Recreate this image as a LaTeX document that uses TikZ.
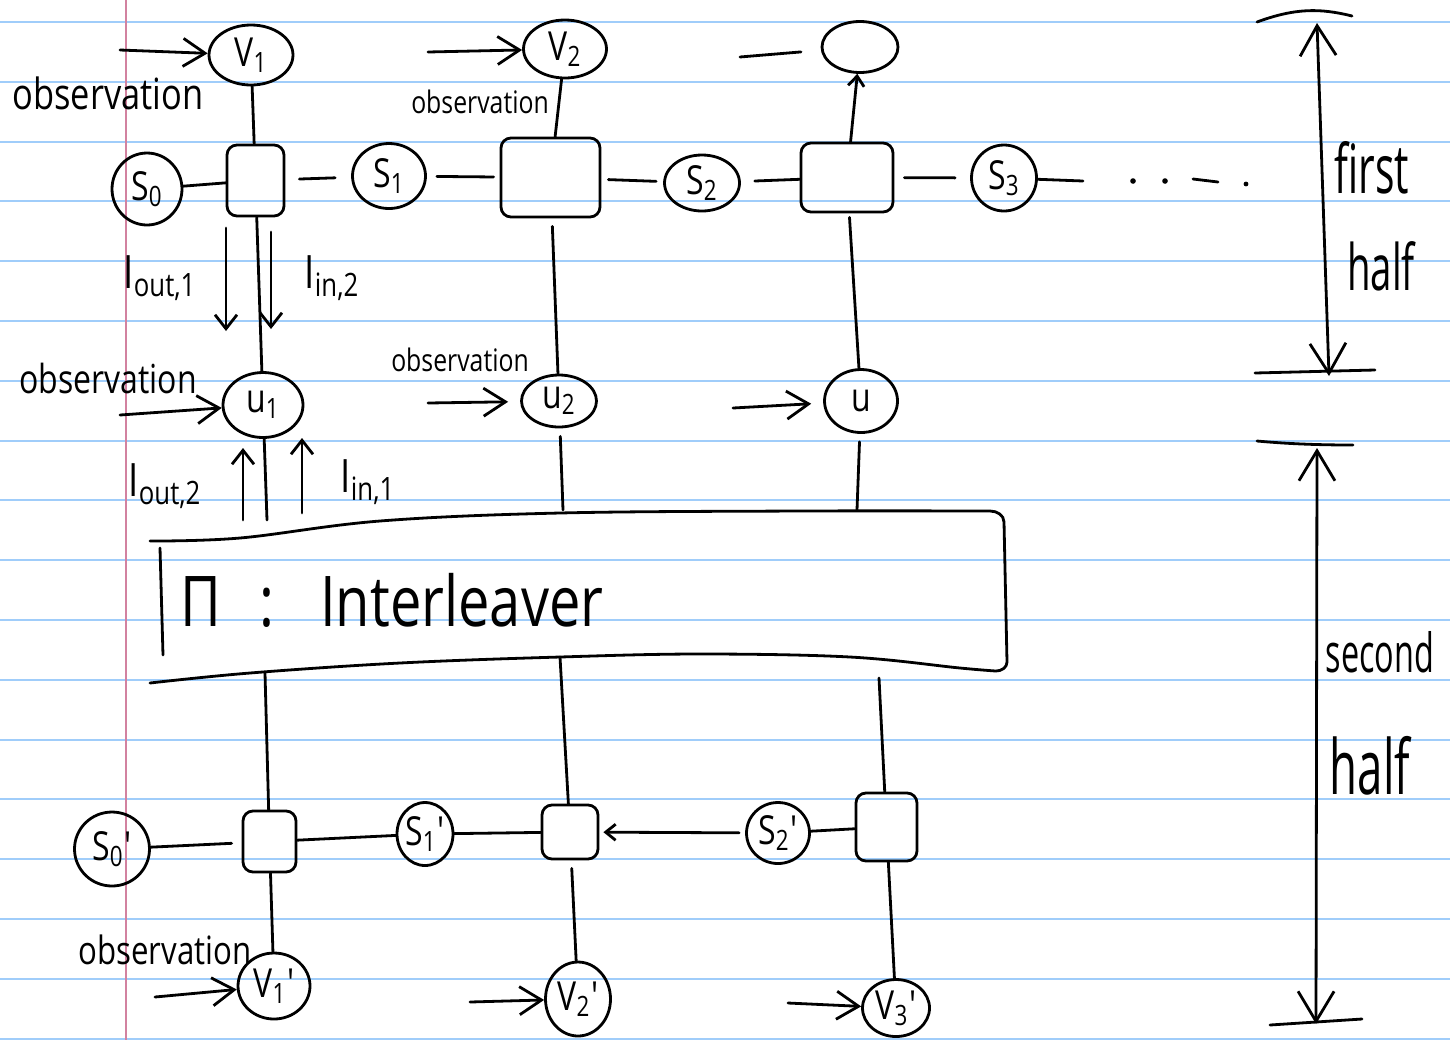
\documentclass[tikz,border=0pt]{standalone}
\usepackage{fontspec}
\setmainfont{Open Sans}
\newfontfamily\hand[FakeStretch=0.8]{Open Sans}
\newfontfamily\handtall[FakeStretch=0.6]{Open Sans}
\usetikzlibrary{arrows.meta,shapes.geometric}

\definecolor{ruling}{RGB}{160,205,250}
\definecolor{marginline}{RGB}{210,130,160}
\definecolor{ink}{RGB}{0,0,0}

% handwriting-like text at a given size
\newcommand{\hs}[1]{\hand\fontsize{#1}{#1}\selectfont}
\newcommand{\tallhs}[1]{\handtall\fontsize{#1}{#1}\selectfont}
% primed symbol with a subscript
\newcommand{\primed}[2]{#1\textsubscript{#2}\kern0.02em'}

\begin{document}
\begin{tikzpicture}[x=0.5pt,y=-0.5pt,
  pen/.style={draw=ink,line width=1.4pt,line cap=round,line join=round},
  state/.style={pen,ellipse,inner sep=0pt,font=\hs{20}},
  trellis/.style={pen,rectangle,rounded corners=5pt,inner sep=0pt},
  link/.style={pen},
  obsarrow/.style={pen,-{Straight Barb[length=11pt,width=14pt]}},
  flow/.style={pen,-{Straight Barb[length=7pt,width=11pt]}},
  tip/.style={pen,-{Straight Barb[length=5pt,width=8pt]}},
  span/.style={pen,{Straight Barb[length=15pt,width=18pt]}-{Straight Barb[length=15pt,width=18pt]}},
  note/.style={inner sep=0pt,text=ink},
]
\useasboundingbox (0,0) rectangle (1450,1040);

% ruled paper
\fill[white] (0,0) rectangle (1450,1040);
\foreach \k in {0,...,17}
  \draw[ruling,line width=1pt] (0,{22+59.8*\k}) -- (1450,{22+59.8*\k});
\draw[marginline,line width=1pt] (126,0) -- (126,1040);

% ---------- first half: observations, states, trellis sections ----------
\node[state,minimum width=42pt,minimum height=30pt] (v1) at (251,55) {V\textsubscript{1}};
\node[state,minimum width=41.5pt,minimum height=29pt] (v2) at (565,49) {V\textsubscript{2}};
\node[state,minimum width=38pt,minimum height=25.5pt] (v3) at (860,47) {};

\node[state,minimum width=35pt,minimum height=36pt] (s0) at (147,189) {S\textsubscript{0}};
\node[trellis,minimum width=28.5pt,minimum height=35.5pt] (b1) at (255.5,180.5) {};
\node[state,minimum width=36.5pt,minimum height=32.5pt] (s1) at (389,176) {S\textsubscript{1}};
\node[trellis,minimum width=49.5pt,minimum height=39.5pt] (b2) at (550.5,177.5) {};
\node[state,minimum width=37.5pt,minimum height=28pt] (s2) at (702,183) {S\textsubscript{2}};
\node[trellis,minimum width=46pt,minimum height=34.5pt] (b3) at (847,177.5) {};
\node[state,minimum width=32.5pt,minimum height=33pt] (s3) at (1004,178) {S\textsubscript{3}};
\coordinate (more) at (1083,181);

\node[state,minimum width=40pt,minimum height=32.5pt] (u1) at (263,405) {u\textsubscript{1}};
\node[state,minimum width=37.5pt,minimum height=26pt] (u2) at (559,401) {u\textsubscript{2}};
\node[state,minimum width=36.5pt,minimum height=31.5pt] (u3) at (861,401) {u};

% observation inputs
\coordinate (ov1) at (120,50);
\coordinate (ov2) at (428,52);
\coordinate (ov3) at (740,57);
\coordinate (ou1) at (120,415);
\coordinate (ou2) at (428,403);
\coordinate (ou3) at (733,408);
\draw[obsarrow] (ov1) -- (v1);
\draw[obsarrow] (ov2) -- (v2);
\draw[link,shorten >=10pt] (ov3) -- (v3);
\draw[obsarrow] (ou1) -- (u1);
\draw[obsarrow,shorten >=6pt] (ou2) -- (u2);
\draw[obsarrow,shorten >=6pt] (ou3) -- (u3);

\node[note,font=\hs{21.5}] (obv1) at (108,93) {observation};
\node[note,font=\hs{15.5}] (obv2) at (480,102) {observation};
\node[note,font=\hs{20}] (obu1) at (108,378) {observation};
\node[note,font=\hs{15.5}] (obu2) at (460,360) {observation};

% state chain
\draw[link] (s0) -- (b1);
\draw[link,shorten <=7pt,shorten >=8pt] (b1) -- (s1);
\draw[link,shorten <=5pt,shorten >=3pt] (s1) -- (b2);
\draw[link,shorten <=3.5pt,shorten >=3.5pt] (b2) -- (s2);
\draw[link,shorten <=7pt] (s2) -- (b3);
\draw[link,shorten <=5pt,shorten >=7.5pt] (b3) -- (s3);
\draw[link] (s3) -- (more);
\fill[ink] (1133,181) circle (1.4pt) (1165,181) circle (1.4pt) (1246,184) circle (1.2pt);
\draw[link] (1193,179) -- (1218,182);

% trellis sections to their observation nodes
\draw[link] (v1) -- (b1);
\draw[link] (v2) -- (b2);
\draw[tip] (b3) -- (v3);
\draw[link] (b1) -- (u1);
\draw[link,shorten <=4pt] (b2) -- (u2);
\draw[link,shorten <=2pt] (b3) -- (u3);

% extrinsic information exchanged with u1
\coordinate (io1a) at (226,228);
\coordinate (io1b) at (226,331);
\coordinate (ii2a) at (271,232);
\coordinate (ii2b) at (271,329);
\draw[flow] (io1a) -- (io1b);
\draw[flow] (ii2a) -- (ii2b);
\node[note,font=\hs{23}] (lio1) at (160,278) {I\textsubscript{out,1}};
\node[note,font=\hs{23}] (lii2) at (332,278) {I\textsubscript{in,2}};

\coordinate (io2a) at (243,520);
\coordinate (io2b) at (243,448);
\coordinate (ii1a) at (302,513);
\coordinate (ii1b) at (302,438);
\draw[flow] (io2a) -- (io2b);
\draw[flow] (ii1a) -- (ii1b);
\node[note,font=\hs{23}] (lio2) at (165,486) {I\textsubscript{out,2}};
\node[note,font=\hs{23}] (lii1) at (368,482) {I\textsubscript{in,1}};

% ---------- interleaver ----------
\draw[pen] plot[smooth,tension=0.6] coordinates
  {(150,541) (240,538) (380,521) (560,513) (800,511) (990,511)}
  to[out=0,in=90] (1004,522) -- (1007,662) to[out=270,in=0] (996,671)
  plot[smooth,tension=0.6] coordinates
  {(996,671) (960,668) (850,657) (700,654) (560,657) (400,663) (250,673) (150,683)};
\draw[pen] (160,548) -- (163,655);
\node[note,font=\hs{35}] (pi) at (392,600) {Π\hspace{0.55em}:\hspace{0.65em}Interleaver};

\coordinate (pt1) at (267,520);
\coordinate (pt2) at (563,510);
\coordinate (pt3) at (857,510);
\draw[link] (u1) -- (pt1);
\draw[link,shorten <=4pt] (u2) -- (pt2);
\draw[link,shorten <=4pt] (u3) -- (pt3);

% ---------- second half ----------
\node[state,minimum width=37.5pt,minimum height=37pt] (t0) at (112,849) {\primed{S}{0}};
\node[trellis,minimum width=26.5pt,minimum height=30.5pt] (c1) at (269.5,841.5) {};
\node[state,minimum width=28pt,minimum height=31.5pt] (t1) at (425,834) {\primed{S}{1}};
\node[trellis,minimum width=28pt,minimum height=27pt] (c2) at (570,832) {};
\node[state,minimum width=31.5pt,minimum height=30.5pt] (t2) at (778,833) {\primed{S}{2}};
\node[trellis,minimum width=30.5pt,minimum height=34pt] (c3) at (886.5,827) {};

\node[state,minimum width=36pt,minimum height=33pt] (w1) at (274,986) {\primed{V}{1}};
\node[state,minimum width=32.5pt,minimum height=37pt] (w2) at (578,999) {\primed{V}{2}};
\node[state,minimum width=33.5pt,minimum height=28.5pt] (w3) at (896,1008) {\primed{V}{3}};

\draw[link,shorten >=5pt] (t0) -- (c1);
\draw[link] (c1) -- (t1);
\draw[link] (t1) -- (c2);
\draw[tip,shorten <=3pt,shorten >=2pt] (t2) -- (c2);
\draw[link] (t2) -- (c3);

\coordinate (pb1) at (265,673);
\coordinate (pb2) at (560,657);
\coordinate (pb3) at (879,678);
\draw[link] (pb1) -- (c1);
\draw[link] (pb2) -- (c2);
\draw[link] (pb3) -- (c3);

\draw[link] (c1) -- (w1);
\draw[link,shorten <=4pt] (c2) -- (w2);
\draw[link] (c3) -- (w3);

\coordinate (ow1) at (155,997);
\coordinate (ow2) at (470,1002);
\coordinate (ow3) at (788,1003);
\draw[obsarrow] (ow1) -- (w1);
\draw[obsarrow] (ow2) -- (w2);
\draw[obsarrow] (ow3) -- (w3);
\node[note,font=\hs{19.5}] (obw1) at (165,950) {observation};

% ---------- halves of the decoding iteration ----------
\draw[pen] (1257,22) .. controls (1295,8) and (1320,8) .. (1352,16);
\coordinate (fa) at (1317,23);
\coordinate (fb) at (1329,376);
\draw[span] (fa) -- (fb);
\draw[pen] (1255,373) -- (1375,370);
\node[note,font=\tallhs{34}] (first) at (1372,168) {first};
\node[note,font=\tallhs{32}] (half1) at (1381,266) {half};

\draw[pen] (1257,441) .. controls (1290,444) and (1320,445) .. (1353,445);
\coordinate (sa) at (1317,448);
\coordinate (sb) at (1316,1024);
\draw[span] (sa) -- (sb);
\draw[pen] (1270,1025) -- (1362,1019);
\node[note,font=\tallhs{27}] (second) at (1380,652) {second};
\node[note,font=\tallhs{38}] (half2) at (1370,766) {half};
\end{tikzpicture}
\end{document}
